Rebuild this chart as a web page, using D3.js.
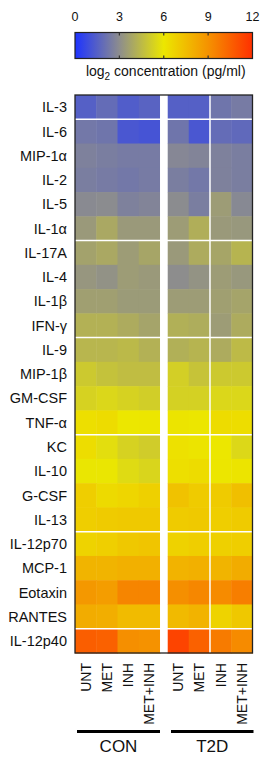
<!DOCTYPE html>
<html>
<head>
<meta charset="utf-8">
<script src="https://cdn.jsdelivr.net/npm/d3@7"></script>
<style>
	body { margin: 0; background: #fff; }
	text { font-family: "Liberation Sans", Arial, sans-serif; fill: #111; }
</style>
</head>
<body>
<script>
const cytokines = ["IL-3", "IL-6", "MIP-1α", "IL-2", "IL-5", "IL-1α", "IL-17A", "IL-4", "IL-1β", "IFN-γ",
	"IL-9", "MIP-1β", "GM-CSF", "TNF-α", "KC", "IL-10", "G-CSF", "IL-13", "IL-12p70", "MCP-1",
	"Eotaxin", "RANTES", "IL-12p40"];
const treatments = ["UNT", "MET", "INH", "MET+INH"];
const groups = ["CON", "T2D"];
const colorTicks = [0, 3, 6, 9, 12];

// log2 concentration, one row per cytokine, columns UNT, MET, INH, MET+INH
const conValues = [
	[1.5, 1.9, 1.4, 1.6],
	[2.3, 2.2, 1.2, 1.1],
	[2.6, 2.5, 2.4, 2.4],
	[2.5, 2.4, 2.3, 2.4],
	[2.9, 2.95, 2.6, 2.7],
	[3.4, 3.9, 3.4, 3.4],
	[3.7, 3.9, 3.5, 3.8],
	[3.3, 3.15, 3.5, 3.4],
	[3.6, 3.6, 3.45, 3.45],
	[4.2, 4.2, 4.0, 3.75],
	[4.35, 4.35, 4.45, 4.2],
	[5.0, 4.75, 4.6, 4.6],
	[5.3, 5.45, 5.3, 5.15],
	[6.3, 6.4, 6.0, 6.05],
	[6.35, 5.7, 5.3, 5.1],
	[5.95, 5.95, 5.6, 5.4],
	[6.9, 6.45, 6.6, 6.8],
	[6.9, 7.0, 7.05, 7.05],
	[6.7, 6.85, 7.1, 7.2],
	[7.8, 7.8, 7.95, 7.95],
	[8.8, 8.6, 9.4, 9.4],
	[8.1, 8.0, 7.55, 7.55],
	[10.6, 10.5, 9.1, 9.0]
];
const t2dValues = [
	[1.5, 1.5, 2.2, 2.4],
	[2.2, 1.2, 1.9, 1.8],
	[2.8, 2.7, 2.6, 2.5],
	[2.5, 2.3, 2.6, 2.5],
	[2.95, 2.5, 3.5, 2.85],
	[3.5, 4.1, 3.4, 3.35],
	[3.4, 4.0, 3.8, 4.3],
	[3.0, 3.2, 3.5, 3.35],
	[3.5, 3.5, 3.6, 3.75],
	[4.15, 4.05, 3.5, 4.0],
	[4.15, 4.3, 4.0, 4.5],
	[5.2, 4.8, 5.0, 5.0],
	[5.25, 5.25, 5.45, 5.45],
	[6.1, 6.05, 6.4, 6.35],
	[6.2, 6.1, 6.0, 5.5],
	[6.3, 6.4, 6.05, 6.1],
	[7.3, 7.0, 7.0, 7.4],
	[7.0, 7.05, 6.9, 7.0],
	[6.75, 6.9, 6.8, 6.9],
	[7.85, 7.95, 7.8, 8.1],
	[9.1, 9.35, 9.2, 9.6],
	[7.6, 7.85, 6.7, 7.1],
	[11.4, 10.5, 9.7, 9.2]
];
// row boundaries drawn as white separators (after these row indices)
const rowBreaks = [0, 5, 9, 13, 17, 21];

const WIDTH = 260, HEIGHT = 760;
const HEAT = { left: 75, right: 252.5, top: 95, bottom: 653 };
const GAP = 0.35; // gap between groups, in column widths
const BAR = { top: 32.5, bottom: 58.5 };

const svg = d3.select("body").append("svg")
	.attr("width", WIDTH)
	.attr("height", HEIGHT);

const color = d3.scaleLinear()
	.domain(colorTicks)
	.range(["#1d33ff", "#8d8d8d", "#ece700", "#f59200", "#ff3000"]);

// slot scale: columns 0..3 for CON, 4+GAP..7+GAP for T2D
const slot = d3.scaleLinear()
	.domain([0, 8 + GAP])
	.range([HEAT.left, HEAT.right]);
const colX = (g, j) => slot(g * (4 + GAP) + j);
const colW = slot(1) - slot(0);

const y = d3.scaleBand()
	.domain(cytokines)
	.range([HEAT.top, HEAT.bottom]);

// --- colour bar ---
const defs = svg.append("defs");
const grad = defs.append("linearGradient").attr("id", "cbar");
colorTicks.forEach(v => {
	grad.append("stop")
		.attr("offset", `${v / 12 * 100}%`)
		.attr("stop-color", color(v));
});

const cx = d3.scaleLinear().domain([0, 12]).range([HEAT.left, HEAT.right]);

svg.append("rect")
	.attr("x", cx(0))
	.attr("y", BAR.top)
	.attr("width", cx(12) - cx(0))
	.attr("height", BAR.bottom - BAR.top)
	.attr("fill", "url(#cbar)")
	.attr("stroke", "#222")
	.attr("stroke-width", 1.2);

const barAxis = svg.append("g");
barAxis.selectAll(".tk-top")
	.data(colorTicks.slice(1, -1))
	.join("line")
	.attr("x1", d => cx(d)).attr("x2", d => cx(d))
	.attr("y1", BAR.top).attr("y2", BAR.top + 3)
	.attr("stroke", "#333").attr("stroke-width", 1.2);
barAxis.selectAll(".tk-bot")
	.data(colorTicks.slice(1, -1))
	.join("line")
	.attr("x1", d => cx(d)).attr("x2", d => cx(d))
	.attr("y1", BAR.bottom - 3).attr("y2", BAR.bottom)
	.attr("stroke", "#333").attr("stroke-width", 1.2);
barAxis.selectAll("text")
	.data(colorTicks)
	.join("text")
	.attr("x", d => cx(d))
	.attr("y", 20.5)
	.attr("text-anchor", "middle")
	.attr("font-size", "12.5px")
	.text(d => d);

const unit = svg.append("text")
	.attr("x", (HEAT.left + HEAT.right) / 2 + 2)
	.attr("y", 76)
	.attr("text-anchor", "middle")
	.attr("font-size", "14px");
unit.append("tspan").text("log");
unit.append("tspan").attr("font-size", "10px").attr("dy", 4).text("2");
unit.append("tspan").attr("dy", -4).text(" concentration (pg/ml)");

// --- heatmap cells ---
const cells = [];
[conValues, t2dValues].forEach((vals, g) => {
	vals.forEach((row, i) => {
		row.forEach((v, j) => cells.push({ g, i, j, v }));
	});
});

svg.append("g")
	.selectAll("rect")
	.data(cells)
	.join("rect")
	.attr("x", d => colX(d.g, d.j))
	.attr("y", d => y(cytokines[d.i]))
	.attr("width", colW + 0.5)
	.attr("height", y.bandwidth() + 0.5)
	.attr("fill", d => color(d.v));

// white separators
const sep = svg.append("g").attr("stroke", "#fff").attr("stroke-width", 1.5);
sep.selectAll(".hline")
	.data(rowBreaks)
	.join("line")
	.attr("x1", HEAT.left).attr("x2", HEAT.right)
	.attr("y1", d => y(cytokines[d]) + y.bandwidth())
	.attr("y2", d => y(cytokines[d]) + y.bandwidth());
sep.append("line")
	.attr("x1", colX(1, 2)).attr("x2", colX(1, 2))
	.attr("y1", HEAT.top).attr("y2", HEAT.bottom);

// gap between groups
svg.append("rect")
	.attr("x", colX(0, 4))
	.attr("y", HEAT.top)
	.attr("width", colX(1, 0) - colX(0, 4))
	.attr("height", HEAT.bottom - HEAT.top)
	.attr("fill", "#fff");

svg.append("rect")
	.attr("x", HEAT.left)
	.attr("y", HEAT.top)
	.attr("width", HEAT.right - HEAT.left)
	.attr("height", HEAT.bottom - HEAT.top)
	.attr("fill", "none")
	.attr("stroke", "#222")
	.attr("stroke-width", 1.3);

// row labels
svg.append("g")
	.selectAll("text")
	.data(cytokines)
	.join("text")
	.attr("x", 67)
	.attr("y", d => y(d) + y.bandwidth() / 2)
	.attr("dy", "0.36em")
	.attr("text-anchor", "end")
	.attr("font-size", "14.5px")
	.text(d => d);

// column labels
groups.forEach((grp, g) => {
	svg.append("g")
		.selectAll("text")
		.data(treatments)
		.join("text")
		.attr("transform", (d, j) => `translate(${colX(g, j) + colW / 2},663) rotate(-90)`)
		.attr("dy", "0.36em")
		.attr("text-anchor", "end")
		.attr("font-size", "14px")
		.text(d => d);

	const x0 = g === 0 ? 77 : 171;
	const x1 = g === 0 ? 160 : 253.5;
	svg.append("line")
		.attr("x1", x0).attr("x2", x1)
		.attr("y1", 731.5).attr("y2", 731.5)
		.attr("stroke", "#000")
		.attr("stroke-width", 3);
	svg.append("text")
		.attr("x", (x0 + x1) / 2)
		.attr("y", 752)
		.attr("text-anchor", "middle")
		.attr("font-size", "17px")
		.text(grp);
});
</script>
</body>
</html>
